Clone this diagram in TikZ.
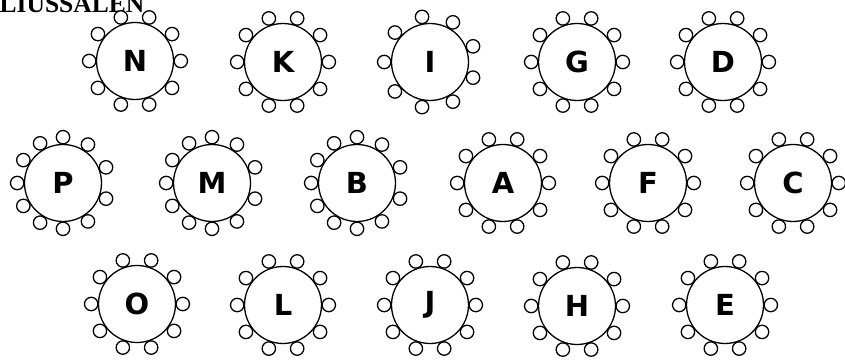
\documentclass[tikz,border=0pt]{standalone}
\usepackage{fontspec}
\setmainfont{DejaVu Sans}
\newfontfamily\titlefont{Liberation Serif}
\begin{document}
\begin{tikzpicture}[x=1pt,y=1pt,
  tablebox/.style={circle,draw,line width=1.3pt,minimum size=77pt,inner sep=0pt,fill=white,
    font=\fontsize{29}{29}\selectfont\bfseries},
  chair/.style={draw,line width=1.3pt,fill=white},
  titletext/.style={font=\titlefont\fontsize{25.5}{25.5}\selectfont\bfseries,inner sep=0pt,anchor=base west}]
\useasboundingbox (0,0) rectangle (845,359);
\clip (0,0) rectangle (845,359);
\node[titletext] (title) at (-0.5,346.5) {LIUSSALEN};
% tables with 10 chairs
\foreach \n/\x/\y in {N/135/298,K/283/297,G/577/297,D/723/297,
                      A/503/176,F/648/176,C/793/176,
                      O/137/55,L/283/54,J/430/54,H/577/53,E/725/54}{
  \foreach \a in {0,36,...,324} \draw[chair] (\x,\y) ++(\a:45.8) circle[radius=6.7];
  \node[tablebox] (\n) at (\x,\y) {\n};
}
% table with 9 chairs
\foreach \n/\x/\y in {I/430/297}{
  \foreach \a in {180,220,...,500} \draw[chair] (\x,\y) ++(\a:45.8) circle[radius=6.7];
  \node[tablebox] (\n) at (\x,\y) {\n};
}
% tables with 11 chairs
\foreach \n/\x/\y in {P/63/176,M/212/176,B/357/176}{
  \foreach \a in {90,120,150,180,210,240,270,303,340,20,57} \draw[chair] (\x,\y) ++(\a:45.8) circle[radius=6.7];
  \node[tablebox] (\n) at (\x,\y) {\n};
}
\end{tikzpicture}
\end{document}
